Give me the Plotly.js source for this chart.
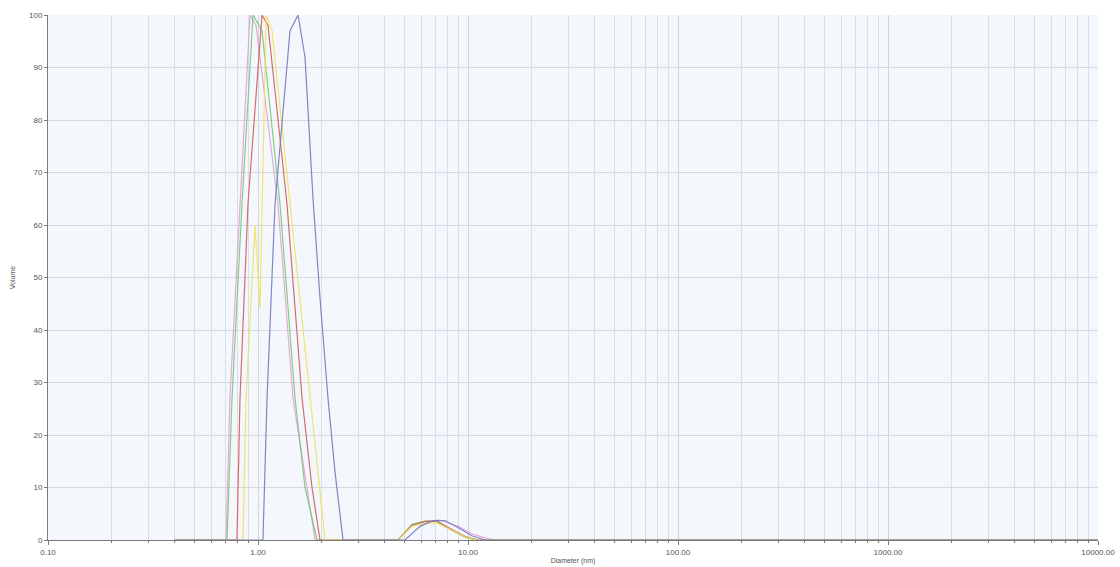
<!DOCTYPE html>
<html>
<head>
<meta charset="utf-8">
<script src="https://cdn.plot.ly/plotly-3.0.1.min.js"></script>
<style>
  html, body { margin: 0; padding: 0; background: #ffffff; }
  #chart { width: 1120px; height: 567px; }
</style>
</head>
<body>
<div id="chart"></div>
<script>
// Diameter (nm) and Volume (%)
const diamPink   = [0.4, 0.704, 0.735, 0.821, 0.916, 0.979, 1.245, 1.468, 1.870, 4.64, 5.41, 6.24, 7.36, 8.96, 10.45, 12.05, 13.45, 10000];
const volPink    = [0,   0,     27,    64,    100,   98,    64,    27,    0,     0,    2.8,  3.6,  3.8,  2.6,  1.2,   0.4,   0,     0];

const diamGreen  = [0.4, 0.712, 0.752, 0.839, 0.947, 1.045, 1.273, 1.501, 1.674, 1.910, 4.64, 5.41, 6.24, 7.12, 8.21, 9.68, 10.8, 10000];
const volGreen   = [0,   0,     27,    64,    100,   97,    64,    27,    10,    0,     0,    3.0,  3.6,  3.5,  2.0,  0.5,  0,    0];

const diamRed    = [0.4, 0.794, 0.821, 0.896, 1.045, 1.116, 1.374, 1.621, 1.808, 1.974, 4.64, 5.41, 6.24, 7.12, 8.21, 9.68, 11.2, 10000];
const volRed     = [0,   0,     27,    64,    100,   98,    64,    27,    10,    0,     0,    2.8,  3.5,  3.6,  2.2,  0.7,  0,    0];

const diamYellow = [0.4, 0.848, 0.877, 0.968, 1.022, 1.093, 1.166, 1.421, 1.769, 2.085, 4.64, 5.41, 6.24, 7.12, 8.21, 9.68, 11.0, 10000];
const volYellow  = [0,   0,     27,    60,    44,    100,   97,    64,    27,    0,     0,    2.6,  3.2,  3.2,  2.0,  0.6,  0,    0];

const diamPurple = [0.4, 1.056, 1.104, 1.205, 1.421, 1.551, 1.674, 1.828, 1.974, 2.154, 2.326, 2.540, 5.01, 5.91, 6.81, 7.77, 8.96, 10.45, 12.05, 10000];
const volPurple  = [0,   0,     27,    64,    97,    100,   92,    65,    46,    27,    13,    0,     0,    2.6,  3.7,  3.7,  2.4,  0.8,   0,     0];

const seriesNames = ["Record 1", "Record 2", "Record 3", "Record 4", "Record 5"];
const xTickVals   = [0.1, 1, 10, 100, 1000, 10000];
const xTickText   = ["0.10", "1.00", "10.00", "100.00", "1000.00", "10000.00"];

const styles = [
  { color: "rgba(226,160,212,0.9)" },
  { color: "rgba(120,200,120,0.9)" },
  { color: "rgba(205,95,95,0.9)" },
  { color: "rgba(238,225,95,0.9)" },
  { color: "rgba(125,125,195,0.95)" }
];
const xs = [diamPink, diamGreen, diamRed, diamYellow, diamPurple];
const ys = [volPink, volGreen, volRed, volYellow, volPurple];

const traces = xs.map((x, i) => ({
  type: "scatter",
  mode: "lines",
  name: seriesNames[i],
  x: x,
  y: ys[i],
  line: { color: styles[i].color, width: 1.2 },
  hoverinfo: "x+y"
}));

const layout = {
  width: 1120,
  height: 567,
  margin: { l: 48, r: 22, t: 15, b: 27 },
  paper_bgcolor: "#ffffff",
  plot_bgcolor: "#f4f8fc",
  showlegend: false,
  font: { family: "Liberation Sans, Arial, sans-serif", color: "#555" },
  xaxis: {
    type: "log",
    range: [-1, 4],
    tickvals: xTickVals,
    ticktext: xTickText,
    showgrid: true,
    gridcolor: "#cfd6e0",
    gridwidth: 1,
    zeroline: false,
    showline: true,
    linecolor: "#7a7a7a",
    linewidth: 1,
    ticks: "outside",
    ticklen: 4,
    tickcolor: "#7a7a7a",
    tickfont: { size: 8, color: "#555" },
    minor: { dtick: "D1", showgrid: true, gridcolor: "#d9dfe8", ticks: "outside", ticklen: 2, tickcolor: "#7a7a7a" },
    title: { text: "Diameter (nm)", font: { size: 7, color: "#555" }, standoff: 2 }
  },
  yaxis: {
    range: [0, 100],
    dtick: 10,
    showgrid: true,
    gridcolor: "#d3d9e2",
    zeroline: false,
    showline: true,
    linecolor: "#7a7a7a",
    linewidth: 1,
    ticks: "outside",
    ticklen: 3,
    tickcolor: "#7a7a7a",
    tickfont: { size: 8, color: "#555" },
    title: { text: "Volume", font: { size: 7, color: "#555" }, standoff: 12 }
  }
};

Plotly.newPlot("chart", traces, layout, { displayModeBar: false, staticPlot: true });
</script>
</body>
</html>
